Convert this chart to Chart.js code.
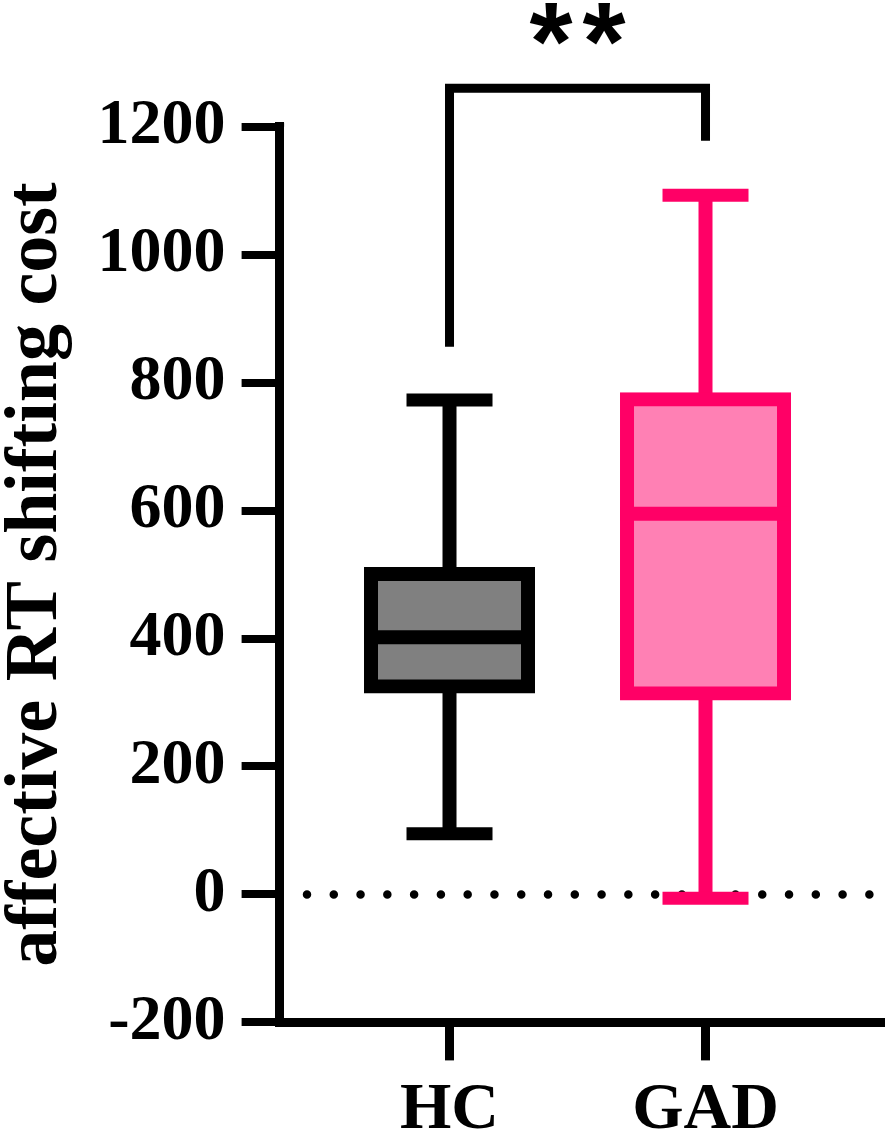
<!DOCTYPE html>
<html><head><meta charset="utf-8">
<script src="https://cdn.jsdelivr.net/npm/chart.js@4/dist/chart.umd.min.js"></script>
<style>html,body{margin:0;padding:0;background:#fff}canvas{display:block}</style>
</head><body>
<canvas id="c" width="886" height="1137"></canvas>
<script>
// ---- data ----
const categories = ['HC', 'GAD'];
const whiskerMin = [95, -6];
const q1 = [325, 314];
const median = [402, 595];
const q3 = [501, 774];
const whiskerMax = [773, 1093];
const yTicks = [-200, 0, 200, 400, 600, 800, 1000, 1200];
const yTitle = 'affective RT shifting cost';
const bracketValues = [856, 1260, 1178]; // left end, top, right end
const bracketLabel = '**';
const referenceValue = 0;

// ---- styles ----
const fillColors = ['#808080', '#FF80B4'];
const edgeColors = ['#000000', '#FF0066'];
const SERIF = '"Liberation Serif", "Times New Roman", serif';

const extras = {
  id: 'boxExtras',
  beforeDatasetsDraw(chart) {
    const {ctx, scales: {x, y}, chartArea} = chart;
    // dotted reference line
    ctx.save();
    ctx.strokeStyle = '#000';
    ctx.lineWidth = 8.5;
    ctx.lineCap = 'round';
    ctx.setLineDash([0, 26.78]);
    const yy = y.getPixelForValue(referenceValue);
    ctx.beginPath();
    ctx.moveTo(chartArea.left + 27.4, yy);
    ctx.lineTo(chartArea.right - 9, yy);
    ctx.stroke();
    ctx.restore();
    // whiskers
    categories.forEach((c, i) => {
      const cx = x.getPixelForValue(i + 1);
      ctx.save();
      ctx.strokeStyle = edgeColors[i];
      ctx.lineCap = 'butt';
      ctx.lineWidth = 14;
      ctx.beginPath();
      ctx.moveTo(cx, y.getPixelForValue(whiskerMax[i]));
      ctx.lineTo(cx, y.getPixelForValue(whiskerMin[i]));
      ctx.stroke();
      ctx.lineWidth = 13;
      [whiskerMin[i], whiskerMax[i]].forEach(v => {
        const py = y.getPixelForValue(v);
        ctx.beginPath();
        ctx.moveTo(cx - 43, py);
        ctx.lineTo(cx + 43, py);
        ctx.stroke();
      });
      ctx.restore();
    });
  },
  afterDatasetsDraw(chart) {
    const {ctx, scales: {x, y}} = chart;
    // medians
    categories.forEach((c, i) => {
      const cx = x.getPixelForValue(i + 1);
      const py = y.getPixelForValue(median[i]);
      ctx.save();
      ctx.strokeStyle = edgeColors[i];
      ctx.lineWidth = 14;
      ctx.beginPath();
      ctx.moveTo(cx - 85.5, py);
      ctx.lineTo(cx + 85.5, py);
      ctx.stroke();
      ctx.restore();
    });
    // significance bracket
    const xl = x.getPixelForValue(1), xr = x.getPixelForValue(2);
    const yTop = y.getPixelForValue(bracketValues[1]);
    ctx.save();
    ctx.strokeStyle = '#000';
    ctx.lineWidth = 9;
    ctx.lineJoin = 'miter';
    ctx.lineCap = 'butt';
    ctx.beginPath();
    ctx.moveTo(xl, y.getPixelForValue(bracketValues[0]));
    ctx.lineTo(xl, yTop);
    ctx.lineTo(xr, yTop);
    ctx.lineTo(xr, y.getPixelForValue(bracketValues[2]));
    ctx.stroke();
    // asterisks
    ctx.fillStyle = '#000';
    ctx.font = 'bold 100px "Liberation Sans", Arial, sans-serif';
    let m = ctx.measureText('*');
    const h = m.actualBoundingBoxAscent + m.actualBoundingBoxDescent;
    const fs = 100 * 42 / h;
    ctx.font = 'bold ' + fs + 'px "Liberation Sans", Arial, sans-serif';
    const mid = (xl + xr) / 2;
    const chars = bracketLabel.split('');
    const pitch = 53;
    chars.forEach((ch, k) => {
      const mm = ctx.measureText(ch);
      const cxk = mid + (k - (chars.length - 1) / 2) * pitch;
      const cy = yTop - 64;
      const tx = cxk - (mm.actualBoundingBoxRight - mm.actualBoundingBoxLeft) / 2;
      const ty = cy + (mm.actualBoundingBoxAscent - mm.actualBoundingBoxDescent) / 2;
      ctx.textAlign = 'left';
      ctx.textBaseline = 'alphabetic';
      ctx.fillText(ch, tx, ty);
    });
    ctx.restore();
    // square off axis corners
    const ca = chart.chartArea;
    ctx.save();
    ctx.fillStyle = '#000';
    ctx.fillRect(ca.left - 4.5, ca.top - 4, 9, 4);
    ctx.fillRect(ca.left - 4.5, ca.bottom, 4.5, 4.5);
    ctx.restore();
  }
};

new Chart(document.getElementById('c'), {
  type: 'bar',
  data: {
    datasets: [{
      data: categories.map((c, i) => ({x: i + 1, y: [q1[i], q3[i]]})),
      backgroundColor: fillColors,
      borderColor: edgeColors,
      borderWidth: 14,
      borderSkipped: false,
      inflateAmount: 7,
      barThickness: 157,
      grouped: false
    }]
  },
  options: {
    responsive: false,
    animation: false,
    devicePixelRatio: 1,
    layout: {padding: {top: 126.7, right: 6, left: 0, bottom: 0}},
    plugins: {legend: {display: false}, tooltip: {enabled: false}},
    scales: {
      x: {
        type: 'linear',
        offset: false,
        min: 0.3363,
        max: 2.6816,
        afterBuildTicks: s => { s.ticks = categories.map((c, i) => ({value: i + 1})); },
        afterFit: s => { s.height = 114.6; },
        ticks: {
          callback: v => categories[v - 1],
          font: {family: SERIF, size: 66, weight: 'bold'},
          color: '#000',
          padding: 11,
          maxRotation: 0,
          autoSkip: false
        },
        grid: {display: true, offset: false, drawOnChartArea: false, drawTicks: true, tickLength: 38, lineWidth: 9, color: '#000'},
        border: {display: true, width: 9, color: '#000'}
      },
      y: {
        type: 'linear',
        min: -200,
        max: 1200,
        afterBuildTicks: s => { s.ticks = yTicks.map(v => ({value: v})); },
        afterFit: s => { s.width = 279.6; },
        ticks: {
          callback: v => String(v),
          font: {family: SERIF, size: 64, weight: 'bold'},
          color: '#000',
          padding: 16
        },
        grid: {display: true, drawOnChartArea: false, drawTicks: true, tickLength: 38, lineWidth: 8, color: '#000'},
        border: {display: true, width: 9, color: '#000'},
        title: {
          display: true,
          text: yTitle,
          color: '#000',
          font: {family: SERIF, size: 74, weight: 'bold', lineHeight: 1.0},
          padding: 0
        }
      }
    }
  },
  plugins: [extras]
});
</script>
</body></html>
